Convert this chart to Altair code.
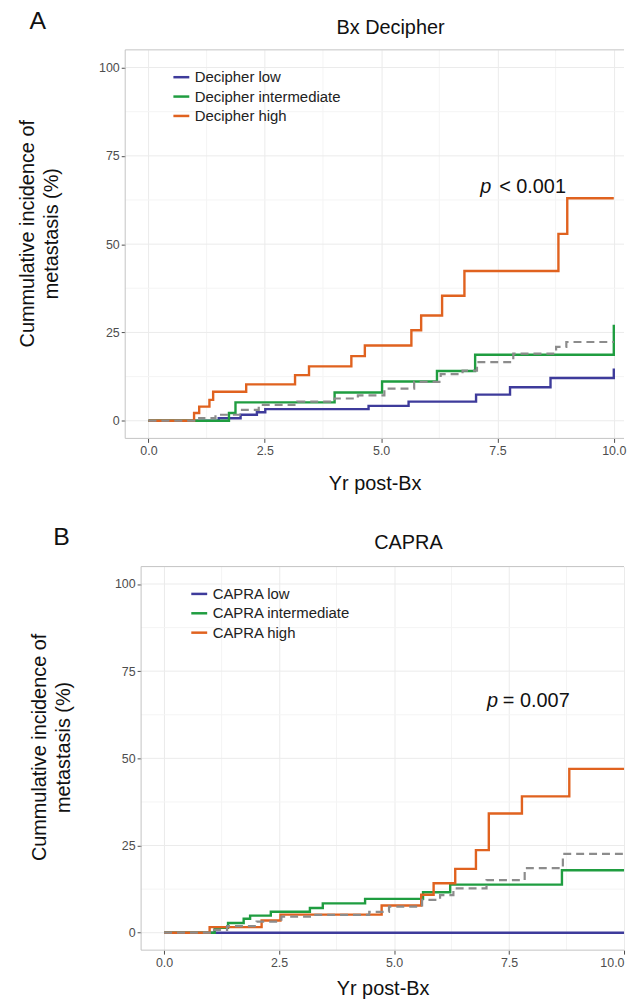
import altair as alt
import pandas as pd

FONT = "Liberation Sans"
LINE_COLORS = ["#3E3B9B", "#1F9D40", "#E0621F"]
OVERALL_COLOR = "#8C8C8C"
BORDER = "#C4C4C4"
GRID = "#EBEBEB"
GRID_MINOR = "#F4F4F4"

X_TICKS = [0, 2.5, 5, 7.5, 10]
Y_TICKS = [0, 25, 50, 75, 100]
X_MINOR = [1.25, 3.75, 6.25, 8.75]
Y_MINOR = [12.5, 37.5, 62.5, 87.5]
X_LO = -0.5
Y_LO, Y_HI = -5, 105

X_TITLE = "Yr post-Bx"
Y_TITLE = ["Cummulative incidence of", "metastasis (%)"]

# ---- Panel A: Bx Decipher ----
A_TAG = "A"
A_TITLE = "Bx Decipher"
A_NAMES = ["Decipher low", "Decipher intermediate", "Decipher high"]
A_LOW_T = [0, 1.51, 1.98, 2.33, 2.51, 4.73, 5.59, 7.04, 7.77, 8.64, 10.0]
A_LOW_Y = [0, 0.7, 1.7, 2.4, 3.3, 4.2, 5.4, 7.4, 9.5, 12.1, 14.8]
A_INT_T = [0, 1.73, 1.87, 4.0, 5.02, 6.2, 7.02, 10.0]
A_INT_Y = [0, 2.2, 5.2, 8.0, 11.1, 14.1, 18.7, 27.2]
A_HIGH_T = [0, 0.98, 1.09, 1.31, 1.39, 2.10, 3.15, 3.45, 4.36, 4.65, 5.65, 5.86,
            6.31, 6.79, 8.81, 9.0, 10.0]
A_HIGH_Y = [0, 2.2, 4.0, 5.9, 8.2, 10.3, 12.9, 15.4, 18.3, 21.3, 25.6, 29.8,
            35.4, 42.4, 52.9, 63.0, 63.0]
A_ALL_T = [0, 1.09, 1.44, 2.01, 2.37, 3.2, 4.0, 4.5, 5.07, 5.71, 6.28, 6.75,
           7.06, 7.84, 8.76, 8.98, 10.0]
A_ALL_Y = [0, 0.75, 1.7, 3.1, 4.5, 5.4, 6.3, 7.2, 9.1, 11.0, 13.2, 14.2,
           16.6, 19.0, 20.9, 22.3, 22.3]
A_P_TEXT = "< 0.001"
A_P_X = 7.13
A_P_Y = 66.3

# ---- Panel B: CAPRA ----
B_TAG = "B"
B_TITLE = "CAPRA"
B_NAMES = ["CAPRA low", "CAPRA intermediate", "CAPRA high"]
B_LOW_T = [0, 10.0]
B_LOW_Y = [0, 0]
B_INT_T = [0, 1.1, 1.39, 1.73, 1.87, 2.32, 3.17, 3.45, 4.37, 5.63, 6.22, 8.65, 10.0]
B_INT_Y = [0, 1.4, 2.8, 4.0, 4.9, 6.0, 7.1, 8.4, 9.7, 11.6, 13.8, 17.9, 17.9]
B_HIGH_T = [0, 0.99, 2.12, 2.53, 4.73, 5.59, 5.86, 6.33, 6.78, 7.06, 7.78, 8.81, 10.0]
B_HIGH_Y = [0, 1.6, 3.5, 5.2, 7.8, 10.9, 14.2, 18.3, 23.7, 34.2, 39.1, 47.0, 47.0]
B_ALL_T = [0, 1.05, 1.37, 2.01, 2.55, 3.17, 4.46, 4.89, 5.61, 6.0, 6.29, 7.01,
           7.84, 8.67, 10.0]
B_ALL_Y = [0, 0.8, 1.9, 3.2, 4.6, 5.1, 6.0, 7.5, 9.4, 10.8, 12.7, 15.1,
           18.5, 22.6, 22.6]
B_P_TEXT = "= 0.007"
B_P_X = 7.02
B_P_Y = 66.4


def panel(tag, title, names, series, overall, p_text, p_x, p_y, lay):
    rows = []
    for name, (ts, ys) in zip(names, series):
        for t, y in zip(ts, ys):
            rows.append({"t": t, "y": y, "group": name})
    df = pd.DataFrame(rows)
    df_all = pd.DataFrame({"t": overall[0], "y": overall[1]})

    sh = lay["shift"]                     # px between plot origin and panel edge
    xmin = X_LO - sh / lay["ppu"]
    xs = alt.Scale(domain=[xmin, lay["xmax"]], nice=False, zero=False)
    ys_ = alt.Scale(domain=[Y_LO, Y_HI], nice=False, zero=False)
    xaxis = alt.Axis(values=X_TICKS, format=".1f", title=X_TITLE,
                     titlePadding=lay["xtitle_pad"], labelFlush=lay["flush"],
                     titleX=lay["xtitle_x"])
    yaxis = alt.Axis(values=Y_TICKS, format="d", title=None, grid=False,
                     offset=-sh)

    def X(field):
        return alt.X(field, type="quantitative", scale=xs, axis=xaxis)

    def Y(field):
        return alt.Y(field, type="quantitative", scale=ys_, axis=yaxis)

    hgrid = pd.DataFrame({"y": Y_MINOR + Y_TICKS,
                          "kind": ["minor"] * len(Y_MINOR) + ["major"] * len(Y_TICKS),
                          "a": [X_LO] * (len(Y_MINOR) + len(Y_TICKS)),
                          "b": [lay["xmax"]] * (len(Y_MINOR) + len(Y_TICKS))})
    grid_h = alt.Chart(hgrid).mark_rule(strokeWidth=1).encode(
        y=Y("y"), x=X("a"), x2="b:Q",
        color=alt.Color("kind:N", scale=alt.Scale(domain=["minor", "major"],
                                                  range=[GRID_MINOR, GRID]),
                        legend=None))
    minor_x = alt.Chart(pd.DataFrame({"t": X_MINOR})).mark_rule(
        color=GRID_MINOR, strokeWidth=1).encode(x=X("t"))

    # panel border (left, top, bottom); right side is cut off in the figure
    bdf = pd.DataFrame({"a": [X_LO, X_LO, X_LO], "b": [X_LO, lay["xmax"], lay["xmax"]],
                        "y1": [Y_LO, Y_HI, Y_LO], "y2": [Y_HI, Y_HI, Y_LO]})
    border = alt.Chart(bdf).mark_rule(color=BORDER, strokeWidth=1).encode(
        x=X("a"), x2="b:Q", y=Y("y1"), y2="y2:Q")

    lines = alt.Chart(df).mark_line(interpolate="step-after", strokeWidth=2.4).encode(
        x=X("t"), y=Y("y"),
        color=alt.Color("group:N", scale=alt.Scale(domain=names, range=LINE_COLORS),
                        sort=names,
                        legend=alt.Legend(orient="none", legendX=lay["legx"] + sh,
                                          legendY=lay["legy"], title=None,
                                          symbolType="stroke", symbolStrokeWidth=2.5,
                                          symbolSize=256, labelFontSize=15,
                                          labelFont=FONT, labelColor="#222222",
                                          rowPadding=1.5, padding=0, labelOffset=4)),
        order=alt.Order("t:Q"),
    )
    dashed = alt.Chart(df_all).mark_line(
        interpolate="step-after", strokeWidth=2.2, color=OVERALL_COLOR,
        strokeDash=[8, 5]).encode(x=X("t"), y=Y("y"))

    pdf = pd.DataFrame({"t": [p_x], "y": [p_y], "s": [p_text], "p": ["p"]})
    p_it = alt.Chart(pdf).mark_text(font=FONT, fontSize=20, fontStyle="italic",
                                    align="left", baseline="middle",
                                    color="#111111").encode(
        x=X("t"), y=Y("y"), text="p:N")
    p_rest = alt.Chart(pdf).mark_text(font=FONT, fontSize=20, align="left",
                                      baseline="middle", dx=lay["pdx"],
                                      color="#111111").encode(
        x=X("t"), y=Y("y"), text="s:N")

    tdf = pd.DataFrame({"s": [title], "tag": [tag]})
    ttl = alt.Chart(tdf).mark_text(font=FONT, fontSize=20, align="center",
                                   baseline="middle", color="#111111").encode(
        x=alt.value(lay["title_x"] + sh), y=alt.value(lay["title_y"]), text="s:N")
    tg = alt.Chart(tdf).mark_text(font=FONT, fontSize=25, align="center",
                                  baseline="middle", color="#111111").encode(
        x=alt.value(lay["tag_x"] + sh), y=alt.value(lay["tag_y"]), text="tag:N")
    ytl = alt.Chart(tdf).mark_text(font=FONT, fontSize=20, align="center",
                                   baseline="middle", angle=270, lineHeight=24,
                                   text=Y_TITLE, color="#111111").encode(
        x=alt.value(lay["ytitle_x"] + sh), y=alt.value(lay["ytitle_y"]))
    # invisible frame that fixes the outer extent of each panel
    spacer = alt.Chart(tdf).mark_rule(strokeOpacity=0, strokeWidth=1).encode(
        x=alt.value(lay["left"]), x2=alt.value(lay["left"]),
        y=alt.value(lay["top"]), y2=alt.value(lay["bottom"]))

    return alt.layer(minor_x, grid_h, border, lines, dashed, p_it, p_rest, ttl, tg,
                     ytl, spacer).resolve_scale(color="independent").properties(
        width=lay["w"], height=lay["h"])


A_LAYOUT = dict(w=502, h=391, xmax=10.22, ppu=502 / 10.72, shift=0, xtitle_pad=17,
                flush=False, xtitle_x=251, legx=47, legy=18, pdx=19,
                title_x=267, title_y=-22, tag_x=-88, tag_y=-29,
                ytitle_x=-98, ytitle_y=185, left=-126, top=-47, bottom=473)
B_LAYOUT = dict(w=502, h=386, xmax=10.0, ppu=486 / 10.5, shift=16, xtitle_pad=10,
                flush=15, xtitle_x=259, legx=49, legy=18, pdx=16,
                title_x=269, title_y=-24, tag_x=-80, tag_y=-30,
                ytitle_x=-102, ytitle_y=182, left=-126, top=-47, bottom=0)

chart_a = panel(A_TAG, A_TITLE, A_NAMES,
                [(A_LOW_T, A_LOW_Y), (A_INT_T, A_INT_Y), (A_HIGH_T, A_HIGH_Y)],
                (A_ALL_T, A_ALL_Y), A_P_TEXT, A_P_X, A_P_Y, A_LAYOUT)
chart_b = panel(B_TAG, B_TITLE, B_NAMES,
                [(B_LOW_T, B_LOW_Y), (B_INT_T, B_INT_Y), (B_HIGH_T, B_HIGH_Y)],
                (B_ALL_T, B_ALL_Y), B_P_TEXT, B_P_X, B_P_Y, B_LAYOUT)

chart = alt.vconcat(chart_a, chart_b, spacing=0).resolve_scale(
    color="independent").resolve_legend(color="independent").properties(
    padding={"left": 0, "top": 0, "right": 0, "bottom": 0},
    background="white",
).configure_axis(
    labelFont=FONT, labelFontSize=12.5, labelColor="#4D4D4D",
    tickColor="#4D4D4D", tickSize=4, tickWidth=1, labelPadding=2,
    domain=False, gridColor=GRID, gridWidth=1,
    titleFont=FONT, titleFontSize=20, titleFontWeight="normal", titleColor="#111111",
).configure_view(stroke="transparent", strokeWidth=0)

chart.save("out.html", embed_options={"renderer": "svg", "actions": False})
